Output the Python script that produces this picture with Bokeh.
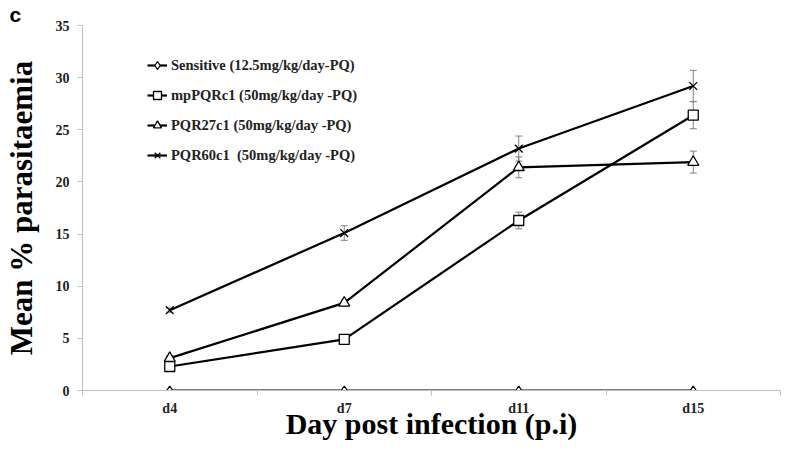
import numpy as np
from bokeh.plotting import figure
from bokeh.models import (ColumnDataSource, Range1d, FixedTicker, Whisker, TeeHead,
                          Legend, LegendItem)
from bokeh.embed import file_html
from bokeh.resources import INLINE

days = ["d4", "d7", "d11", "d15"]
series_names = [
    "Sensitive (12.5mg/kg/day-PQ)",
    "mpPQRc1 (50mg/kg/day -PQ)",
    "PQR27c1 (50mg/kg/day -PQ)",
    "PQR60c1  (50mg/kg/day -PQ)",
]
sensitive = [0.0, 0.0, 0.0, 0.0]
mppqrc1 = [2.3, 4.9, 16.3, 26.4]
pqr27c1 = [3.1, 8.4, 21.4, 21.9]
pqr60c1 = [7.7, 15.1, 23.2, 29.2]
sensitive_err = [0.0, 0.0, 0.0, 0.0]
mppqrc1_err = [0.2, 0.3, 0.8, 1.3]
pqr27c1_err = [0.2, 0.3, 1.0, 1.05]
pqr60c1_err = [0.2, 0.7, 1.2, 1.5]
y_ticks = [0, 5, 10, 15, 20, 25, 30, 35]
x_title = "Day post infection (p.i)"
y_title = "Mean % parasitaemia"
panel_letter = "c"

values = [sensitive, mppqrc1, pqr27c1, pqr60c1]
errors = [sensitive_err, mppqrc1_err, pqr27c1_err, pqr60c1_err]
markers = ["diamond", "square", "triangle", "x"]
msizes = [9, 10, 11, 11]

FONT = "Liberation Serif"

xs = np.arange(len(days)) + 0.5

p = figure(width=784, height=443, output_backend="svg", toolbar_location=None,
           x_range=Range1d(0, len(days)), y_range=Range1d(0, 35),
           min_border_left=79, min_border_right=4, min_border_top=24,
           min_border_bottom=53)
p.outline_line_color = None
p.xgrid.visible = False
p.ygrid.visible = False

# panel letter as title
p.title.text = panel_letter
p.title.align = "left"
p.title.offset = -73
p.title.standoff = 0
p.title.text_font = "Liberation Sans"
p.title.text_font_style = "bold"
p.title.text_font_size = "21px"
p.title.text_color = "black"

# x axis
p.xaxis.ticker = FixedTicker(ticks=list(xs), minor_ticks=list(range(len(days) + 1)))
p.xaxis.major_label_overrides = {float(x): d for x, d in zip(xs, days)}
p.xaxis.major_tick_out = 0
p.xaxis.major_tick_in = 0
p.xaxis.minor_tick_out = 5
p.xaxis.minor_tick_in = 0
p.xaxis.minor_tick_line_color = "#bfbfbf"
p.xaxis.axis_line_color = "#bfbfbf"
p.xaxis.major_label_text_font = FONT
p.xaxis.major_label_text_font_style = "bold"
p.xaxis.major_label_text_font_size = "14px"
p.xaxis.major_label_text_color = "#222222"
p.xaxis.major_label_standoff = 5
p.xaxis.axis_label = x_title
p.xaxis.axis_label_text_font = FONT
p.xaxis.axis_label_text_font_style = "bold"
p.xaxis.axis_label_text_font_size = "30px"
p.xaxis.axis_label_text_color = "#000000"
p.xaxis.axis_label_standoff = -12

# y axis
p.yaxis.ticker = FixedTicker(ticks=y_ticks, minor_ticks=[])
p.yaxis.major_tick_out = 5
p.yaxis.major_tick_in = 0
p.yaxis.major_tick_line_color = "#bfbfbf"
p.yaxis.axis_line_color = "#bfbfbf"
p.yaxis.major_label_text_font = FONT
p.yaxis.major_label_text_font_style = "bold"
p.yaxis.major_label_text_font_size = "14px"
p.yaxis.major_label_text_color = "#222222"
p.yaxis.major_label_standoff = 8
p.yaxis.axis_label = y_title
p.yaxis.axis_label_text_font = FONT
p.yaxis.axis_label_text_font_style = "bold"
p.yaxis.axis_label_text_font_size = "31px"
p.yaxis.axis_label_text_color = "#000000"
p.yaxis.axis_label_standoff = 14

items = []
for name, vals, errs, mk, ms in zip(series_names, values, errors, markers, msizes):
    vals = np.array(vals)
    errs = np.array(errs)
    src = ColumnDataSource(dict(x=xs, y=vals, upper=vals + errs, lower=vals - errs))
    if errs.max() > 0:
        w = Whisker(source=src, base="x", upper="upper", lower="lower",
                    line_color="#808080", line_width=1,
                    upper_head=TeeHead(size=7, line_color="#808080", line_width=1),
                    lower_head=TeeHead(size=7, line_color="#808080", line_width=1))
        p.add_layout(w)
    ln = p.line("x", "y", source=src, line_color="black", line_width=2.2)
    sc = p.scatter("x", "y", source=src, marker=mk, size=ms,
                   fill_color="white", line_color="black", line_width=1.3)
    items.append(LegendItem(label=name, renderers=[ln, sc]))

legend = Legend(items=items, location=(65, 225), orientation="vertical",
                border_line_alpha=0, background_fill_alpha=0,
                padding=0, margin=0, spacing=10, glyph_width=20, glyph_height=20,
                label_standoff=4, label_height=20,
                label_text_font=FONT, label_text_font_style="bold",
                label_text_font_size="14.5px", label_text_color="#222222")
p.add_layout(legend)

open("out.html", "w").write(file_html(p, INLINE))
